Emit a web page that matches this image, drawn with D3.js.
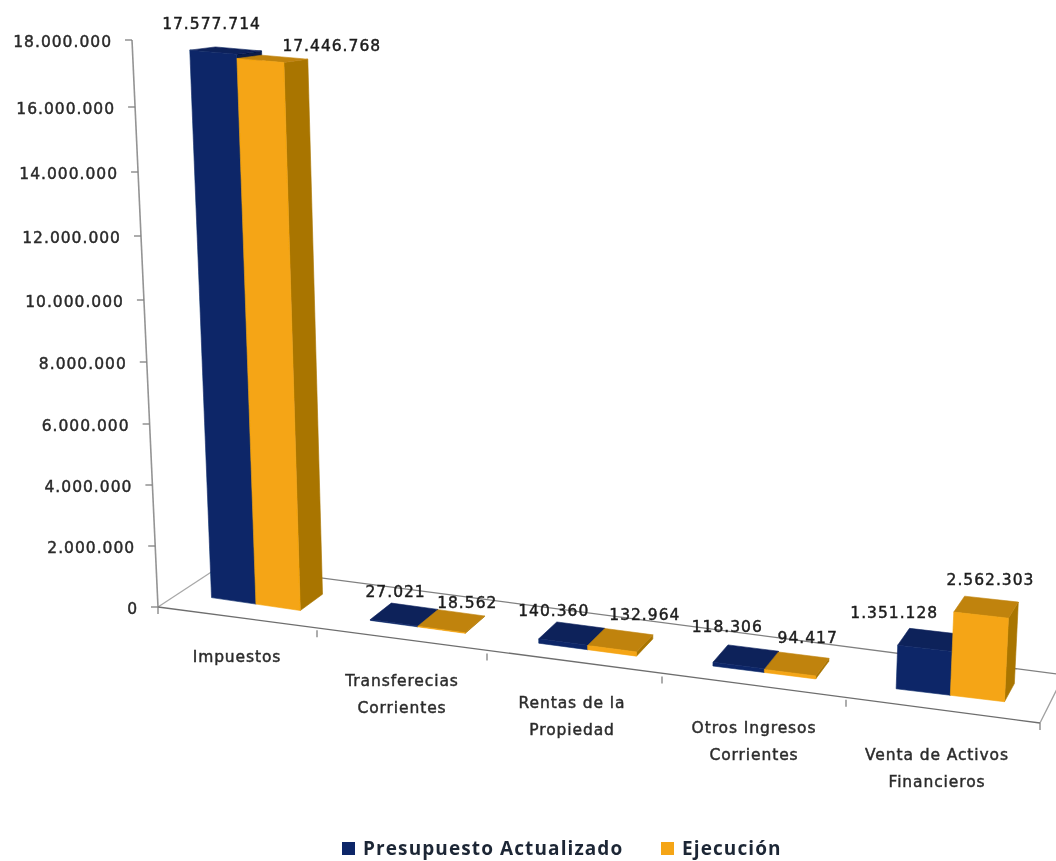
<!DOCTYPE html>
<html>
<head>
<meta charset="utf-8">
<script src="https://cdn.jsdelivr.net/npm/d3@7"></script>
<style>
html,body{margin:0;padding:0;background:#fff;}
svg{display:block;}
.tick-label{font-family:"DejaVu Sans";font-size:15.5px;letter-spacing:1px;fill:#2a2a2a;stroke:#2a2a2a;stroke-width:.45px;}
.value-label{font-family:"DejaVu Sans";font-size:15.5px;letter-spacing:1px;fill:#1c1c1c;stroke:#1c1c1c;stroke-width:.45px;}
.cat-label{font-family:"DejaVu Sans";font-size:15.5px;letter-spacing:.9px;fill:#2c2c2c;stroke:#2c2c2c;stroke-width:.45px;}
.legend-label{font-family:"Open Sans";font-weight:700;font-size:19px;letter-spacing:1.1px;fill:#1f2836;}
</style>
</head>
<body>
<svg id="chart" width="1056" height="861"></svg>
<script>
// ---- data ----
const categories = [
  ["Impuestos"],
  ["Transferecias","Corrientes"],
  ["Rentas de la","Propiedad"],
  ["Otros Ingresos","Corrientes"],
  ["Venta de Activos","Financieros"]
];
const seriesNames = ["Presupuesto Actualizado","Ejecución"];
const presupuesto = [17577714,27021,140360,118306,1351128];
const ejecucion = [17446768,18562,132964,94417,2562303];
const tickValues = [0,2000000,4000000,6000000,8000000,10000000,12000000,14000000,16000000,18000000];

// ---- layout ----
const colors = [
  {front:"#0a2868",top:"#0a205a",side:"#071a48"},
  {front:"#f5a512",top:"#c0830b",side:"#a97504"}
];
const frontX = d3.scaleLinear().domain([0,1,2,3,4,5]).range([158,317,487,662,846,1040]);
const frontY = d3.scaleLinear().domain([0,5]).range([607,723]);
const backX = d3.scaleLinear().domain([0,5]).range([222,1064]);
const backXu = u => 222 + (frontX(u)-158)*(1064-222)/(1040-158);
const backY = d3.scaleLinear().domain([0,5]).range([565,675]);
// the wall is in perspective: its gridlines spread out slowly towards the top
const heightScale = d3.scaleLinear().domain(tickValues).range([0,61,122,183,245,307,371,435,500,567]);

function project(u,d,v){
  const fx = frontX(u), fy = frontY(u);
  const bx = backXu(u), by = backY(u);
  const x0 = fx+(bx-fx)*d, y0 = fy+(by-fy)*d;
  const grow = 0.99+(x0-209)*0.0001;
  const depth = 1-0.068*(d-0.335);
  const h = heightScale(v)*grow*depth;
  const lean = 0.04-(x0-209)*0.00011;
  return [x0-lean*h, y0-h];
}

const svg = d3.select("#chart");
const soft = svg.append("defs").append("filter").attr("id","soft")
  .attr("x","-5%").attr("y","-20%").attr("width","110%").attr("height","140%");
soft.append("feGaussianBlur").attr("stdDeviation",0.55);
const softShape = svg.select("defs").append("filter").attr("id","softShape")
  .attr("x","-5%").attr("y","-5%").attr("width","110%").attr("height","110%");
softShape.append("feGaussianBlur").attr("stdDeviation",0.6);

const lineGen = d3.line();
const grid = svg.append("g").attr("fill","none").attr("stroke","#808080").attr("stroke-width",1.3).attr("filter","url(#softShape)");
const gridUs = d3.range(0,6);

// vertical axis with leaning line
const axisPoint = v => {
  const h = heightScale(v);
  return [158-h*26/567, 607-h];
};
grid.append("path").attr("stroke","#949494").attr("stroke-width",1.6).attr("d",lineGen([axisPoint(0),axisPoint(18000000)]));
grid.selectAll(".ytick").data(tickValues).join("path").attr("class","ytick")
  .attr("d",v=>{const p=axisPoint(v);return lineGen([[p[0]-7,p[1]],p]);});

// floor
grid.append("path").attr("d",lineGen([[frontX(0),frontY(0)],[backX(0),backY(0)]])).attr("stroke","#a8a8a8");
grid.append("path").attr("d",lineGen([[backX(0),backY(0)],[backX(5),backY(5)]]));
grid.append("path").attr("d",lineGen([[frontX(5),frontY(5)],[backX(5),backY(5)]])).attr("stroke","#a0a0a0");
grid.append("path").attr("d",lineGen([[frontX(0),frontY(0)],[frontX(5),frontY(5)]])).attr("stroke","#6e6e6e");
grid.selectAll(".xtick").data(gridUs).join("path").attr("class","xtick")
  .attr("d",u=>lineGen([[frontX(u),frontY(u)],[frontX(u),frontY(u)+7]]));

// bars
const seriesBand = d3.scaleBand().domain([0,1]).range([0.205,0.772]);
const depthFront = 0.335, depthBack = 0.715;
const barsG = svg.append("g").attr("filter","url(#softShape)").attr("stroke-width",0.6).attr("stroke-linejoin","round");
const series = [presupuesto,ejecucion];
categories.forEach((c,i)=>{
  series.forEach((vals,s)=>{
    const v = vals[i];
    const u0 = i+seriesBand(s), u1 = u0+seriesBand.bandwidth();
    const poly = pts => "M"+pts.join("L")+"Z";
    const fl0=project(u0,depthFront,0), fr0=project(u1,depthFront,0), br0=project(u1,depthBack,0);
    const fl1=project(u0,depthFront,v), fr1=project(u1,depthFront,v), br1=project(u1,depthBack,v), bl1=project(u0,depthBack,v);
    barsG.append("path").attr("fill",colors[s].side).attr("stroke",colors[s].side).attr("d",poly([fr0,br0,br1,fr1]));
    barsG.append("path").attr("fill",colors[s].top).attr("stroke",colors[s].top).attr("d",poly([fl1,bl1,br1,fr1]));
    barsG.append("path").attr("fill",colors[s].front).attr("stroke",colors[s].front).attr("d",poly([fl0,fr0,fr1,fl1]));
  });
});

// labels
const nf = d3.formatLocale({decimal:",",thousands:".",grouping:[3],currency:["",""]}).format(",d");
const textG = svg.append("g").attr("filter","url(#soft)");
textG.selectAll(".tick-label").data(tickValues).join("text").attr("class","tick-label")
  .attr("text-anchor","end")
  .attr("x",v=>axisPoint(v)[0]-20)
  .attr("y",v=>axisPoint(v)[1]+7)
  .text(v=>nf(v));

const labelNudge = [
  [[-27,-20],[47,-6]],
  [[-19,-9],[6,-5]],
  [[-27,-9],[16,-12]],
  [[-26,-16],[4,-12]],
  [[-42,-13],[-1,-14]]
];
categories.forEach((c,i)=>{
  series.forEach((vals,s)=>{
    const v = vals[i];
    const u = i+seriesBand(s)+seriesBand.bandwidth()/2;
    const p = project(u,depthBack,v);
    textG.append("text").attr("class","value-label").attr("text-anchor","middle")
      .attr("x",p[0]+labelNudge[i][s][0]).attr("y",p[1]+labelNudge[i][s][1]).text(nf(v));
  });
});

const catPos = d3.scaleLinear().domain([0,1,2,3,4]).range([237,402,572,754,937]);
const catY = d3.scaleLinear().domain([0,1,2,3,4]).range([662,686,708,733,760]);
categories.forEach((lines,i)=>{
  const t = textG.append("text").attr("class","cat-label").attr("text-anchor","middle");
  lines.forEach((ln,k)=>{
    t.append("tspan").attr("x",catPos(i)).attr("y",catY(i)+k*26.5).text(ln);
  });
});

// legend
const legendX = d3.scaleOrdinal().domain([0,1]).range([342,661]);
seriesNames.forEach((n,s)=>{
  svg.append("rect").attr("x",legendX(s)).attr("y",842).attr("width",13).attr("height",13)
    .attr("fill",s===0?colors[0].front:colors[1].front).attr("filter","url(#softShape)");
  textG.append("text").attr("class","legend-label").attr("x",legendX(s)+21).attr("y",855).text(n);
});
</script>
</body>
</html>
